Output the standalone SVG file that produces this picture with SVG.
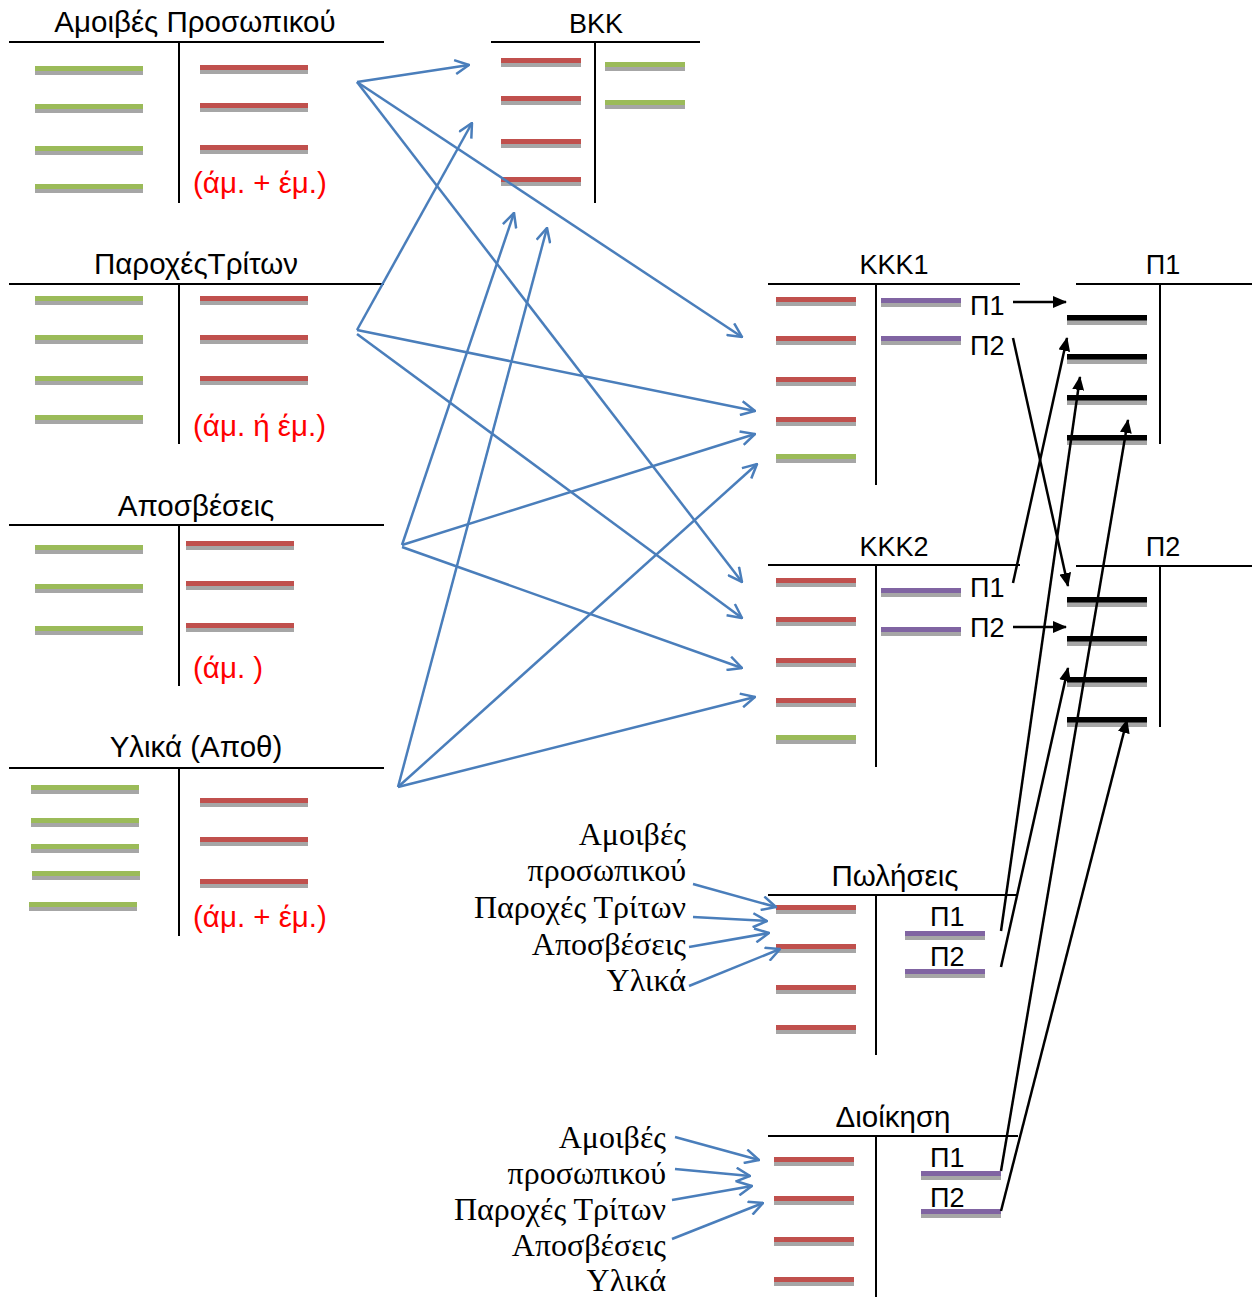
<svg xmlns="http://www.w3.org/2000/svg" xmlns:xlink="http://www.w3.org/1999/xlink" width="1259" height="1300" viewBox="0 0 1259 1300">
<style>
.ln{stroke:#000;stroke-width:2;fill:none}
.t{font-family:"Liberation Sans",Arial,sans-serif;font-size:27px;fill:#000}
.w{font-size:29.5px}
.tc{text-anchor:middle}
.red{fill:#ff0000}
.s{font-family:"Liberation Serif","Times New Roman",serif;font-size:32px;fill:#000;text-anchor:end}
.b{stroke:#4a7ebb;stroke-width:2.5;fill:none}
.k{stroke:#000;stroke-width:2.5;fill:none}
</style>
<defs>
<g id="gL"><rect x="0" y="1" width="108" height="8" fill="#a6a6a6"/><rect x="0" y="0" width="108" height="5" fill="#9bbb59"/></g>
<g id="rL"><rect x="0" y="1" width="108" height="8" fill="#a6a6a6"/><rect x="0" y="0" width="108" height="5" fill="#c0504d"/></g>
<g id="r8"><rect x="0" y="1" width="80" height="8" fill="#a6a6a6"/><rect x="0" y="0" width="80" height="5" fill="#c0504d"/></g>
<g id="g8"><rect x="0" y="1" width="80" height="8" fill="#a6a6a6"/><rect x="0" y="0" width="80" height="5" fill="#9bbb59"/></g>
<g id="p8"><rect x="0" y="1" width="80" height="8" fill="#a6a6a6"/><rect x="0" y="0" width="80" height="5" fill="#8064a2"/></g>
<g id="k8"><rect x="0" y="1" width="80" height="9" fill="#a6a6a6"/><rect x="0" y="0" width="80" height="5.5" fill="#000"/></g>
<marker id="ob" viewBox="0 0 16 16" refX="15" refY="8" markerWidth="16" markerHeight="16" markerUnits="userSpaceOnUse" orient="auto">
<path d="M1,1 L15,8 L1,15" fill="none" stroke="#4a7ebb" stroke-width="2.5"/>
</marker>
<marker id="fk" viewBox="0 0 14 12" refX="13" refY="6" markerWidth="14" markerHeight="12" markerUnits="userSpaceOnUse" orient="auto">
<path d="M0,0 L14,6 L0,12 z" fill="#000"/>
</marker>
</defs>

<g id="amoives">
<text class="t w tc" x="195" y="32">Αμοιβές Προσωπικού</text>
<path class="ln" d="M9,42 H384 M179,42 V203"/>
<use href="#gL" x="35" y="66"/><use href="#gL" x="35" y="104"/><use href="#gL" x="35" y="146"/><use href="#gL" x="35" y="184"/>
<use href="#rL" x="200" y="65"/><use href="#rL" x="200" y="103"/><use href="#rL" x="200" y="145"/>
<text class="t w red" x="193" y="193">(άμ. + έμ.)</text>
</g>

<g id="parohes">
<text class="t w tc" x="196" y="274">ΠαροχέςΤρίτων</text>
<path class="ln" d="M9,284 H384 M179,284 V444"/>
<use href="#gL" x="35" y="296"/><use href="#gL" x="35" y="335"/><use href="#gL" x="35" y="376"/><use href="#gL" x="35" y="415"/>
<use href="#rL" x="200" y="296"/><use href="#rL" x="200" y="335"/><use href="#rL" x="200" y="376"/>
<text class="t w red" x="193" y="436">(άμ. ή έμ.)</text>
</g>

<g id="aposveseis">
<text class="t w tc" x="196" y="516">Αποσβέσεις</text>
<path class="ln" d="M9,525 H384 M179,525 V686"/>
<use href="#gL" x="35" y="545"/><use href="#gL" x="35" y="584"/><use href="#gL" x="35" y="626"/>
<use href="#rL" x="186" y="541"/><use href="#rL" x="186" y="581"/><use href="#rL" x="186" y="623"/>
<text class="t w red" x="193" y="678">(άμ. )</text>
</g>

<g id="ylika">
<text class="t w tc" x="196" y="757">Υλικά (Αποθ)</text>
<path class="ln" d="M9,768 H384 M179,768 V936"/>
<use href="#gL" x="31" y="785"/><use href="#gL" x="31" y="818"/><use href="#gL" x="31" y="844"/><use href="#gL" x="32" y="871"/><use href="#gL" x="29" y="902"/>
<use href="#rL" x="200" y="798"/><use href="#rL" x="200" y="837"/><use href="#rL" x="200" y="879"/>
<text class="t w red" x="193" y="927">(άμ. + έμ.)</text>
</g>

<g id="bkk">
<text class="t tc" x="596" y="33">ΒΚΚ</text>
<path class="ln" d="M491,42 H700 M595,42 V203"/>
<use href="#r8" x="501" y="58"/><use href="#r8" x="501" y="96"/><use href="#r8" x="501" y="139"/><use href="#r8" x="501" y="177"/>
<use href="#g8" x="605" y="62"/><use href="#g8" x="605" y="100"/>
</g>

<g id="kkk1">
<text class="t tc" x="894" y="274">ΚΚΚ1</text>
<path class="ln" d="M768,284 H1020 M876,284 V485"/>
<use href="#r8" x="776" y="297"/><use href="#r8" x="776" y="336"/><use href="#r8" x="776" y="377"/><use href="#r8" x="776" y="417"/><use href="#g8" x="776" y="454"/>
<use href="#p8" x="881" y="298"/><use href="#p8" x="881" y="336"/>
<text class="t" x="970" y="315">Π1</text>
<text class="t" x="970" y="355">Π2</text>
</g>

<g id="kkk2">
<text class="t tc" x="894" y="556">ΚΚΚ2</text>
<path class="ln" d="M768,565 H1020 M876,565 V767"/>
<use href="#r8" x="776" y="578"/><use href="#r8" x="776" y="617"/><use href="#r8" x="776" y="658"/><use href="#r8" x="776" y="698"/><use href="#g8" x="776" y="735"/>
<use href="#p8" x="881" y="588"/><use href="#p8" x="881" y="627"/>
<text class="t" x="970" y="597">Π1</text>
<text class="t" x="970" y="637">Π2</text>
</g>

<g id="p1">
<text class="t tc" x="1163" y="274">Π1</text>
<path class="ln" d="M1076,284 H1252 M1160,284 V444"/>
<use href="#k8" x="1067" y="315"/><use href="#k8" x="1067" y="354"/><use href="#k8" x="1067" y="395"/><use href="#k8" x="1067" y="435"/>
</g>

<g id="p2">
<text class="t tc" x="1163" y="556">Π2</text>
<path class="ln" d="M1076,566 H1252 M1160,566 V727"/>
<use href="#k8" x="1067" y="597"/><use href="#k8" x="1067" y="636"/><use href="#k8" x="1067" y="677"/><use href="#k8" x="1067" y="717"/>
</g>

<g id="poliseis">
<text class="t w tc" x="895" y="886">Πωλήσεις</text>
<path class="ln" d="M768,895 H1018 M876,895 V1055"/>
<use href="#r8" x="776" y="905"/><use href="#r8" x="776" y="944"/><use href="#r8" x="776" y="985"/><use href="#r8" x="776" y="1025"/>
<use href="#p8" x="905" y="931"/><use href="#p8" x="905" y="969"/>
<text class="t" x="930" y="926">Π1</text>
<text class="t" x="930" y="966">Π2</text>
<text class="s" x="686" y="845">Αμοιβές</text>
<text class="s" x="686" y="881">προσωπικού</text>
<text class="s" x="686" y="918">Παροχές Τρίτων</text>
<text class="s" x="686" y="955">Αποσβέσεις</text>
<text class="s" x="686" y="991">Υλικά</text>
</g>

<g id="dioikisi">
<text class="t w tc" x="893" y="1127">Διοίκηση</text>
<path class="ln" d="M768,1136 H1018 M876,1136 V1297"/>
<use href="#r8" x="774" y="1157"/><use href="#r8" x="774" y="1196"/><use href="#r8" x="774" y="1237"/><use href="#r8" x="774" y="1277"/>
<use href="#p8" x="921" y="1171"/><use href="#p8" x="921" y="1209"/>
<text class="t" x="930" y="1167">Π1</text>
<text class="t" x="930" y="1207">Π2</text>
<text class="s" x="666" y="1148">Αμοιβές</text>
<text class="s" x="666" y="1184">προσωπικού</text>
<text class="s" x="666" y="1220">Παροχές Τρίτων</text>
<text class="s" x="666" y="1256">Αποσβέσεις</text>
<text class="s" x="666" y="1291">Υλικά</text>
</g>

<g id="connectors">
<g class="b" marker-end="url(#ob)">
<line x1="357" y1="82" x2="469" y2="65"/>
<line x1="357" y1="82" x2="742" y2="337"/>
<line x1="357" y1="82" x2="742" y2="582"/>
<line x1="357" y1="330" x2="472" y2="123"/>
<line x1="357" y1="330" x2="755" y2="411"/>
<line x1="357" y1="334" x2="742" y2="618"/>
<line x1="402" y1="545" x2="514" y2="213"/>
<line x1="402" y1="545" x2="755" y2="434"/>
<line x1="402" y1="547" x2="742" y2="668"/>
<line x1="398" y1="787" x2="547" y2="228"/>
<line x1="398" y1="787" x2="757" y2="464"/>
<line x1="398" y1="787" x2="755" y2="697"/>
<line x1="693" y1="884" x2="776" y2="907"/>
<line x1="693" y1="917" x2="767" y2="921"/>
<line x1="689" y1="947" x2="769" y2="933"/>
<line x1="689" y1="986" x2="780" y2="949"/>
<line x1="675" y1="1137" x2="759" y2="1160"/>
<line x1="675" y1="1169" x2="750" y2="1176"/>
<line x1="672" y1="1200" x2="752" y2="1186"/>
<line x1="672" y1="1239" x2="763" y2="1203"/>
</g>
<g class="k" marker-end="url(#fk)">
<line x1="1013" y1="302" x2="1066" y2="302"/>
<line x1="1013" y1="627" x2="1066" y2="627"/>
<line x1="1013" y1="338" x2="1068" y2="586"/>
<line x1="1013" y1="583" x2="1067" y2="338"/>
<line x1="1001" y1="931" x2="1080" y2="377"/>
<line x1="1001" y1="967" x2="1068" y2="668"/>
<line x1="1001" y1="1171" x2="1128" y2="420"/>
<line x1="1001" y1="1211" x2="1127" y2="720"/>
</g>
</g>
</svg>
